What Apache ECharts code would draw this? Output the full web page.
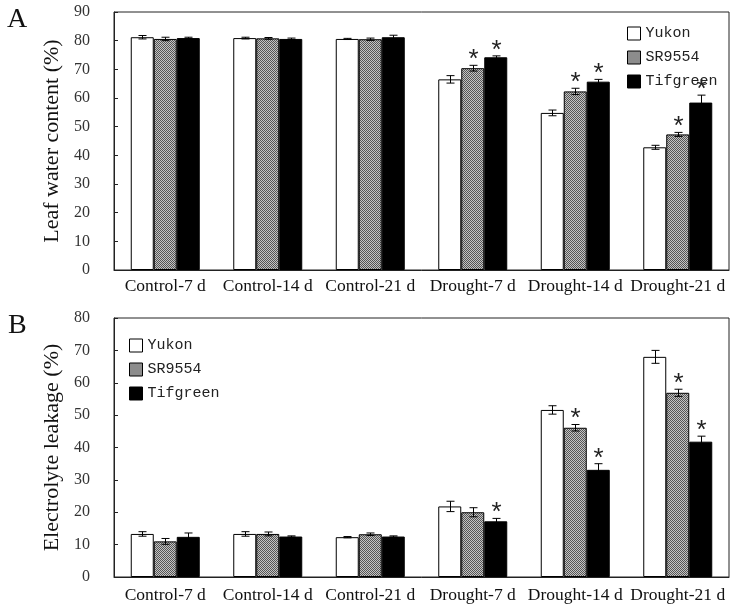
<!doctype html>
<html>
<head>
    <meta charset="utf-8">
    <script src="https://cdn.jsdelivr.net/npm/echarts@6/dist/echarts.min.js"></script>
</head>
<body style="margin: 0">
    <div id="container" style="width: 735px; height: 610px"></div>
    <script type="text/javascript">
        // categories and tick labels
        var categories = ['Control-7 d', 'Control-14 d', 'Control-21 d', 'Drought-7 d', 'Drought-14 d', 'Drought-21 d'];
        var cultivars = ['Yukon', 'SR9554', 'Tifgreen'];

        // A: leaf water content (%)
        var lwcYukon = [81.2, 80.9, 80.6, 66.5, 54.8, 42.8];
        var lwcYukonErr = [0.6, 0.3, 0.2, 1.3, 1.0, 0.7];
        var lwcSR = [80.6, 80.8, 80.5, 70.4, 62.3, 47.3];
        var lwcSRErr = [0.6, 0.3, 0.4, 1.0, 1.1, 0.7];
        var lwcTif = [80.9, 80.6, 81.2, 74.2, 65.7, 58.4];
        var lwcTifErr = [0.3, 0.3, 0.7, 0.5, 0.8, 2.6];
        var lwcYukonSig = [0, 0, 0, 0, 0, 0];
        var lwcSRSig = [0, 0, 0, 1, 1, 1];
        var lwcTifSig = [0, 0, 0, 1, 1, 1];

        // B: electrolyte leakage (%)
        var elYukon = [13.3, 13.3, 12.3, 21.8, 51.6, 68.0];
        var elYukonErr = [0.7, 0.7, 0.2, 1.6, 1.3, 2.0];
        var elSR = [11.0, 13.3, 13.2, 20.0, 46.1, 56.9];
        var elSRErr = [0.9, 0.6, 0.4, 1.4, 1.0, 1.1];
        var elTif = [12.4, 12.5, 12.5, 17.2, 33.1, 41.8];
        var elTifErr = [1.2, 0.2, 0.2, 0.9, 1.9, 1.7];
        var elYukonSig = [0, 0, 0, 0, 0, 0];
        var elSRSig = [0, 0, 0, 0, 1, 1];
        var elTifSig = [0, 0, 0, 1, 1, 1];

        var BAR_W = 23;
        var serif = 'Liberation Serif';

        // fine gray stipple for SR9554
        var pat = document.createElement('canvas');
        pat.width = 2; pat.height = 2;
        var pctx = pat.getContext('2d');
        pctx.fillStyle = '#c4c4c4'; pctx.fillRect(0, 0, 2, 2);
        pctx.fillStyle = '#555555'; pctx.fillRect(0, 0, 1, 1); pctx.fillRect(1, 1, 1, 1);
        var fills = ['#ffffff', { image: pat, repeat: 'repeat' }, '#000000'];

        function barSeries(k, vals, gi) {
            return {
                name: cultivars[k],
                type: 'bar',
                xAxisIndex: gi,
                yAxisIndex: gi,
                barWidth: BAR_W,
                barGap: '0%',
                data: vals,
                itemStyle: { color: fills[k], borderColor: '#000', borderWidth: 1 },
                emphasis: { disabled: true }
            };
        }

        function errSeries(k, vals, errs, sig, gi) {
            return {
                type: 'custom',
                xAxisIndex: gi,
                yAxisIndex: gi,
                z: 5,
                silent: true,
                data: vals.map(function (v, i) { return [i, v, errs[i], sig[i]]; }),
                renderItem: function (params, api) {
                    var i = api.value(0), v = api.value(1), e = api.value(2), s = api.value(3);
                    var top = api.coord([i, v + e]);
                    var bot = api.coord([i, v - e]);
                    var x = Math.round(top[0] + (k - 1) * BAR_W) + 0.5;
                    var st = { stroke: '#000', lineWidth: 1 };
                    var kids = [
                        { type: 'line', shape: { x1: x, y1: top[1], x2: x, y2: bot[1] }, style: st },
                        { type: 'line', shape: { x1: x - 4, y1: top[1], x2: x + 4, y2: top[1] }, style: st },
                        { type: 'line', shape: { x1: x - 4, y1: bot[1], x2: x + 4, y2: bot[1] }, style: st }
                    ];
                    if (s) {
                        kids.push({
                            type: 'text',
                            style: {
                                text: '*', x: x, y: top[1] + 9,
                                align: 'center', verticalAlign: 'bottom',
                                font: '26px "Liberation Mono"', fill: '#222'
                            }
                        });
                    }
                    return { type: 'group', children: kids };
                }
            };
        }

        function xAx(gi, margin) {
            return {
                type: 'category',
                gridIndex: gi,
                data: categories,
                axisLine: { lineStyle: { color: '#222', width: 1 } },
                axisTick: { inside: true, length: 4, lineStyle: { color: '#222' } },
                axisLabel: { interval: 0, margin: margin, fontFamily: serif, fontSize: 17.5, color: '#111' },
                splitLine: { show: false }
            };
        }

        function yAx(gi, max, name) {
            return {
                type: 'value',
                gridIndex: gi,
                min: 0,
                max: max,
                interval: 10,
                name: name,
                nameLocation: 'middle',
                nameGap: 48,
                nameTextStyle: { fontFamily: serif, fontSize: 22, color: '#111' },
                axisLine: { show: true, lineStyle: { color: '#222', width: 1 } },
                axisTick: { show: true, inside: true, length: 4, lineStyle: { color: '#222' } },
                axisLabel: { margin: 24, fontFamily: serif, fontSize: 16, color: '#333' },
                splitLine: { show: false }
            };
        }

        function legendAt(left, top) {
            return {
                data: cultivars,
                orient: 'vertical',
                left: left,
                top: top,
                padding: 0,
                icon: 'rect',
                itemWidth: 13,
                itemHeight: 13,
                itemGap: 9,
                selectedMode: false,
                itemStyle: { borderColor: '#000', borderWidth: 1 },
                textStyle: { fontFamily: 'Liberation Mono', fontSize: 15, color: '#222' }
            };
        }

        var dom = document.getElementById('container');
        var myChart = echarts.init(dom);
        var option = {
            animation: false,
            backgroundColor: '#fff',
            grid: [
                { left: 114, right: 6, top: 12, height: 258, show: true, borderColor: '#222', borderWidth: 1 },
                { left: 114, right: 6, top: 318, height: 259, show: true, borderColor: '#222', borderWidth: 1 }
            ],
            legend: [legendAt(627, 26), legendAt(129, 338)],
            xAxis: [xAx(0, 7), xAx(1, 9)],
            yAxis: [yAx(0, 90, 'Leaf water content (%)'), yAx(1, 80, 'Electrolyte leakage (%)')],
            graphic: [
                { type: 'text', left: 7, top: 6, style: { text: 'A', font: '28px "Liberation Serif"', fill: '#111' } },
                { type: 'text', left: 8, top: 312, style: { text: 'B', font: '28px "Liberation Serif"', fill: '#111' } }
            ],
            series: [
                barSeries(0, lwcYukon, 0),
                barSeries(1, lwcSR, 0),
                barSeries(2, lwcTif, 0),
                errSeries(0, lwcYukon, lwcYukonErr, lwcYukonSig, 0),
                errSeries(1, lwcSR, lwcSRErr, lwcSRSig, 0),
                errSeries(2, lwcTif, lwcTifErr, lwcTifSig, 0),
                barSeries(0, elYukon, 1),
                barSeries(1, elSR, 1),
                barSeries(2, elTif, 1),
                errSeries(0, elYukon, elYukonErr, elYukonSig, 1),
                errSeries(1, elSR, elSRErr, elSRSig, 1),
                errSeries(2, elTif, elTifErr, elTifSig, 1)
            ]
        };
        myChart.setOption(option);
    </script>
</body>
</html>
